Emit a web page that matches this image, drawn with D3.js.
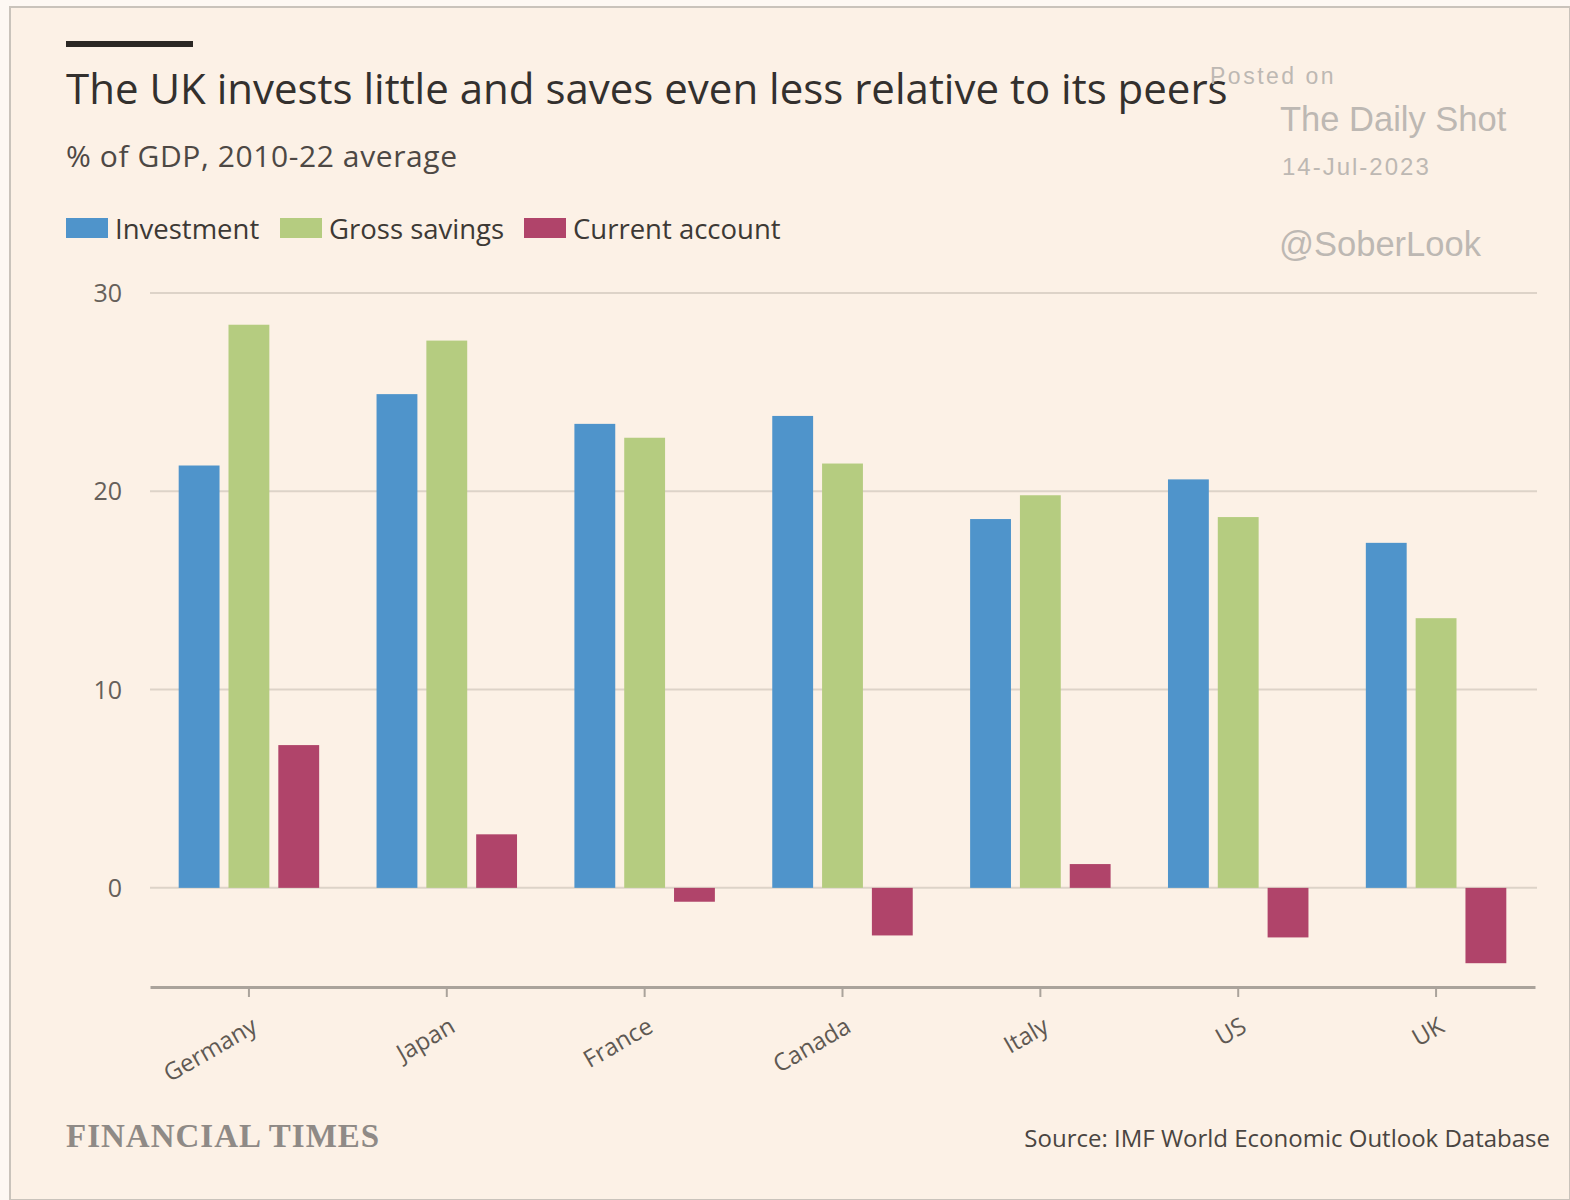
<!DOCTYPE html>
<html>
<head>
<meta charset="utf-8">
<script src="https://cdn.jsdelivr.net/npm/d3@7"></script>
<style>
  body { margin: 0; background: #fdf8f3; }
  svg { display: block; }
</style>
</head>
<body>
<div id="container"></div>
<script>
/* CONSTANTS AND GLOBALS */
const width = 1570;
const height = 1200;

const countries = ["Germany", "Japan", "France", "Canada", "Italy", "US", "UK"];
const seriesNames = ["Investment", "Gross savings", "Current account"];
const investment = [21.3, 24.9, 23.4, 23.8, 18.6, 20.6, 17.4];
const grossSavings = [28.4, 27.6, 22.7, 21.4, 19.8, 18.7, 13.6];
const currentAccount = [7.2, 2.7, -0.7, -2.4, 1.2, -2.5, -3.8];
const yTicks = [0, 10, 20, 30];
const colors = ["#4f94cb", "#b5cc80", "#b0446a"];

const rows = countries.map((c, i) => ({
  country: c,
  values: [investment[i], grossSavings[i], currentAccount[i]]
}));

const svg = d3.select("#container").append("svg")
  .attr("width", width)
  .attr("height", height);

// background panel
svg.append("rect")
  .attr("x", 10).attr("y", 7)
  .attr("width", width - 10).attr("height", height - 7)
  .attr("fill", "#fcf1e6")
  .attr("stroke", "#c9c3bb").attr("stroke-width", 2);

/* SCALES */
const xScale = d3.scaleBand()
  .domain(countries)
  .range([150, 1535])
  .paddingInner(0.29)
  .paddingOuter(0.145);

const xInner = d3.scaleBand()
  .domain(seriesNames)
  .range([0, xScale.bandwidth()])
  .paddingInner(0.18);

const yScale = d3.scaleLinear()
  .domain([-5, 30])
  .range([987, 293]);

const font = "'Open Sans', sans-serif";

// gridlines
svg.append("g")
  .selectAll("line")
  .data(yTicks)
  .join("line")
  .attr("x1", 150).attr("x2", 1537)
  .attr("y1", d => yScale(d)).attr("y2", d => yScale(d))
  .attr("stroke", "#ddd3c8").attr("stroke-width", 2);

// y labels
svg.append("g")
  .selectAll("text")
  .data(yTicks)
  .join("text")
  .attr("x", 122)
  .attr("y", d => yScale(d) + 9)
  .attr("text-anchor", "end")
  .attr("font-family", font)
  .attr("font-size", 25)
  .attr("fill", "#66605a")
  .text(d => d);

// bars
const groups = svg.append("g")
  .selectAll("g")
  .data(rows)
  .join("g")
  .attr("transform", d => `translate(${xScale(d.country)},0)`);

groups.selectAll("rect")
  .data(d => d.values.map((v, i) => ({ key: seriesNames[i], value: v, i })))
  .join("rect")
  .attr("x", d => xInner(d.key))
  .attr("width", xInner.bandwidth())
  .attr("y", d => yScale(Math.max(0, d.value)))
  .attr("height", d => Math.abs(yScale(d.value) - yScale(0)))
  .attr("fill", d => colors[d.i]);

// x axis
const xAxis = d3.axisBottom(xScale).tickSize(10).tickSizeOuter(0);
const gx = svg.append("g")
  .attr("transform", `translate(0,${yScale(-5)})`)
  .call(xAxis);
gx.select(".domain").attr("stroke", "#aaa39b").attr("stroke-width", 3);
gx.selectAll(".tick line").attr("stroke", "#aaa39b").attr("stroke-width", 2);
gx.selectAll(".tick text")
  .attr("font-family", font)
  .attr("font-size", 24)
  .attr("fill", "#5f5953")
  .attr("text-anchor", "end")
  .attr("dy", null)
  .attr("y", 0)
  .attr("transform", "translate(10,44) rotate(-30)");

// titles
svg.append("rect")
  .attr("x", 66).attr("y", 41).attr("width", 127).attr("height", 6)
  .attr("fill", "#2b2724");

svg.append("text")
  .attr("x", 66).attr("y", 104)
  .attr("font-family", font)
  .attr("font-size", 42)
  .attr("fill", "#33302e")
  .text("The UK invests little and saves even less relative to its peers");

svg.append("text")
  .attr("x", 66).attr("y", 167)
  .attr("font-family", font)
  .attr("font-size", 30)
  .attr("letter-spacing", 0.6)
  .attr("fill", "#4d4844")
  .text("% of GDP, 2010-22 average");

// legend
const legendX = [66, 280, 524];
const legend = svg.append("g")
  .selectAll("g")
  .data(seriesNames)
  .join("g")
  .attr("transform", (d, i) => `translate(${legendX[i]},218)`);
legend.append("rect")
  .attr("width", 42).attr("height", 20)
  .attr("fill", (d, i) => colors[i]);
legend.append("text")
  .attr("x", 49).attr("y", 21)
  .attr("font-family", font)
  .attr("font-size", 27.5)
  .attr("fill", "#3d3935")
  .text(d => d);

// watermark
const wm = "'Liberation Sans', Arial, sans-serif";
const watermark = [
  { t: "Posted on", x: 1210, y: 84, s: 23, ls: 2.5 },
  { t: "The Daily Shot", x: 1280, y: 131, s: 34.5, ls: 0 },
  { t: "14-Jul-2023", x: 1282, y: 175, s: 24, ls: 2 },
  { t: "@SoberLook", x: 1279, y: 256, s: 34.5, ls: 0 }
];
svg.append("g")
  .selectAll("text")
  .data(watermark)
  .join("text")
  .attr("x", d => d.x).attr("y", d => d.y)
  .attr("font-family", wm)
  .attr("font-size", d => d.s)
  .attr("letter-spacing", d => d.ls)
  .attr("fill", "#bdb8b3")
  .text(d => d.t);

// footer
svg.append("text")
  .attr("x", 66).attr("y", 1147)
  .attr("font-family", "'Liberation Serif', 'DejaVu Serif', serif")
  .attr("font-size", 33)
  .attr("letter-spacing", 1)
  .attr("font-weight", "bold")
  .attr("fill", "#8f8a86")
  .text("FINANCIAL TIMES");

svg.append("text")
  .attr("x", 1550).attr("y", 1147)
  .attr("text-anchor", "end")
  .attr("font-family", font)
  .attr("font-size", 24)
  .attr("fill", "#4a4541")
  .text("Source: IMF World Economic Outlook Database");
</script>
</body>
</html>
